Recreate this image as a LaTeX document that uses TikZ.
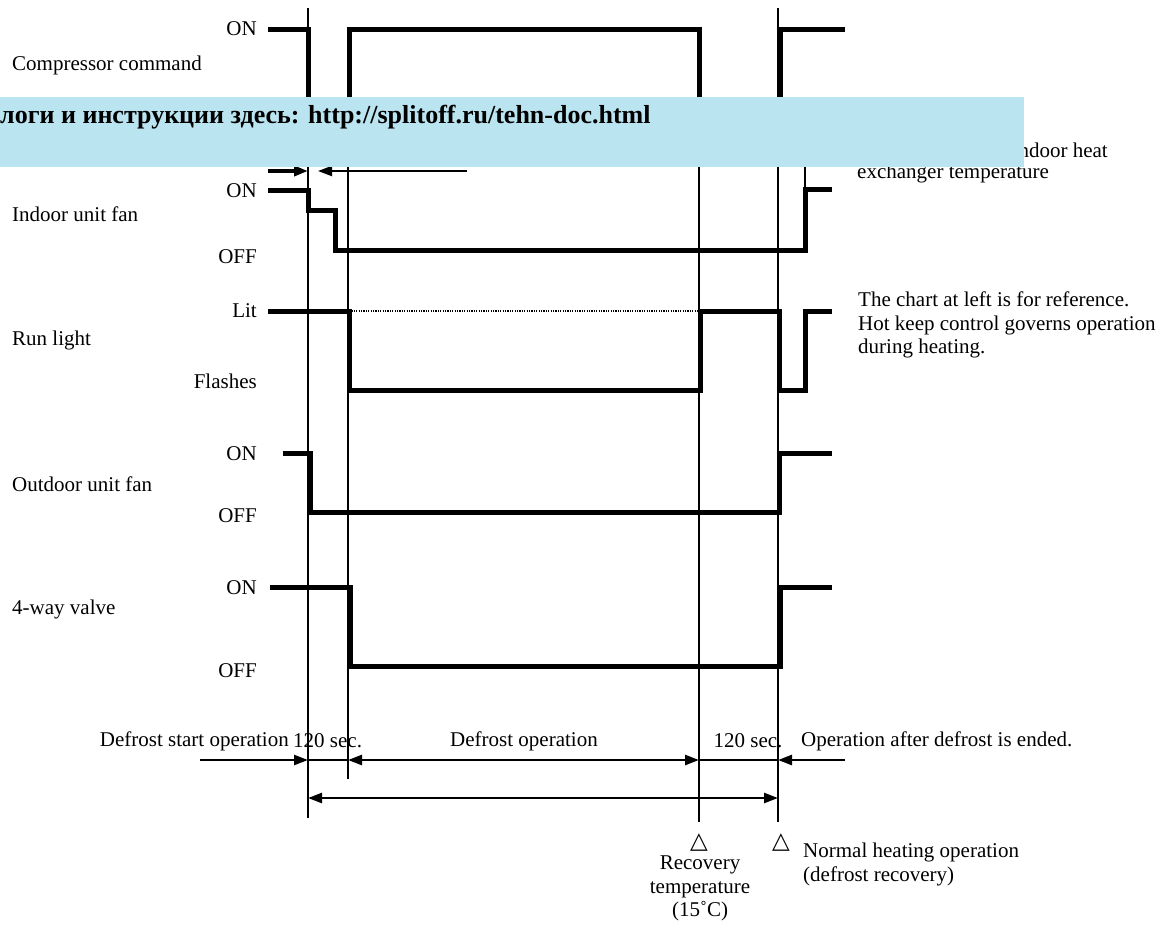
\documentclass[tikz,border=0pt]{standalone}
\usepackage{fontspec}
\setmainfont{Liberation Serif}
\newfontfamily\symfont{DejaVu Sans}
\usetikzlibrary{arrows.meta}
\definecolor{bannerblue}{RGB}{186,228,240}
\tikzset{
  txt/.style={font=\fontsize{21}{23.5}\selectfont, inner sep=0pt},
  lvl/.style={txt, anchor=east},
  sig/.style={txt, anchor=west},
  trimark/.style={inner sep=0pt, font=\symfont\fontsize{23}{25}\selectfont},
  wave/.style={line width=5pt, line join=miter},
  guide/.style={line width=1.2pt},
  dim/.style={line width=2.5pt, -{Triangle[length=14pt,width=10pt]}},
  dimboth/.style={line width=2.5pt, {Triangle[length=14pt,width=10pt]}-{Triangle[length=14pt,width=10pt]}},
}
\begin{document}
\begin{tikzpicture}[x=1pt,y=-1pt]
\useasboundingbox (0,0) rectangle (1169,929);

% vertical guide lines at the phase boundaries
\draw[guide] (308,8) -- (308,818);
\draw[guide] (348,30) -- (348,779);
\draw[guide] (699,30) -- (699,822);
\draw[guide] (778,8) -- (778,822);
\draw[guide] (805,120) -- (805,189);

% signal names
\node[sig] (ncomp) at (12,65) {Compressor command};
\node[sig] (nfan) at (12,214) {Indoor unit fan};
\node[sig] (nrun) at (12,340) {Run light};
\node[sig] (nout) at (12,484) {Outdoor unit fan};
\node[sig] (nvalve) at (12,609) {4-way valve};

% level names
\node[lvl] (l1) at (257,29) {ON};
\node[lvl] (l2) at (257,191) {ON};
\node[lvl] (l3) at (257,257) {OFF};
\node[lvl] (l4) at (257,311) {Lit};
\node[lvl] (l5) at (257,381) {Flashes};
\node[lvl] (l6) at (257,454) {ON};
\node[lvl] (l7) at (257,516) {OFF};
\node[lvl] (l8) at (257,588) {ON};
\node[lvl] (l9) at (257,671) {OFF};

% compressor command
\draw[wave] (268,29) -- (308,29) -- (308,150) -- (349,150) -- (349,29) -- (699,29)
  -- (699,150) -- (780,150) -- (780,29) -- (845,29);

% short interval marks under the compressor trace
\draw[line width=3.5pt, -{Triangle[length=14pt,width=10pt]}] (268,171) -- (308,171);
\draw[line width=2pt, -{Triangle[length=14pt,width=10pt]}] (467,171) -- (318,171);

% indoor unit fan
\draw[wave] (268,190) -- (308,190) -- (308,210) -- (335,210) -- (335,250) -- (805,250)
  -- (805,189) -- (832,189);

% run light
\draw[line width=1.5pt, dash pattern=on 1.2pt off 1.2pt] (349,311) -- (699,311);
\draw[wave] (268,311) -- (349,311) -- (349,390) -- (700,390) -- (700,311) -- (779,311)
  -- (779,390) -- (805,390) -- (805,311) -- (832,311);

% outdoor unit fan
\draw[wave] (283,453) -- (310,453) -- (310,512) -- (779,512) -- (779,453) -- (832,453);

% 4-way valve
\draw[wave] (270,587) -- (350,587) -- (350,666) -- (780,666) -- (780,587) -- (832,587);

% notes on the right
\node[txt, anchor=east] (nheat1) at (1108,150) {indoor heat};
\node[sig] (nheat2) at (857,173) {exchanger temperature};
\node[txt, anchor=north west, align=left] (nnote) at (858,292)
  {The chart at left is for reference.\\Hot keep control governs operation\\during heating.};

% phase labels
\node[txt, anchor=east] (p1) at (289,741) {Defrost start operation};
\node[txt, anchor=west] (p2) at (293,741) {120 sec.};
\node[txt] (p3) at (524,741) {Defrost operation};
\node[txt] (p4) at (748,741) {120 sec.};
\node[txt, anchor=west] (p5) at (801,741) {Operation after defrost is ended.};

% phase arrows
\coordinate (r0) at (200,760);
\coordinate (ra) at (308,760);
\coordinate (rb) at (348,760);
\coordinate (rc) at (699,760);
\coordinate (rd) at (778,760);
\coordinate (re) at (845,760);
\draw[dim] (r0) -- (ra);
\draw[guide] (ra) -- (rb);
\draw[dimboth] (rb) -- (rc);
\draw[guide] (rc) -- (rd);
\draw[dim] (re) -- (rd);

\coordinate (sa) at (308,798);
\coordinate (sd) at (778,798);
\draw[dimboth] (sa) -- (sd);

% event markers
\node[trimark] (t1) at (699,843) {△};
\node[trimark] (t2) at (781,843) {△};
\node[txt, anchor=north, align=center] (ev1) at (700,856) {Recovery\\temperature\\(15˚C)};
\node[txt, anchor=north west, align=left] (ev2) at (803,843) {Normal heating operation\\(defrost recovery)};

% banner
\fill[bannerblue] (0,97) rectangle (1024,167);
\node[anchor=west, inner sep=0pt, font=\bfseries\fontsize{26}{28}\selectfont] (banner) at (0,117)
  {логи и инструкции здесь: http://splitoff.ru/tehn-doc.html};
\end{tikzpicture}
\end{document}
